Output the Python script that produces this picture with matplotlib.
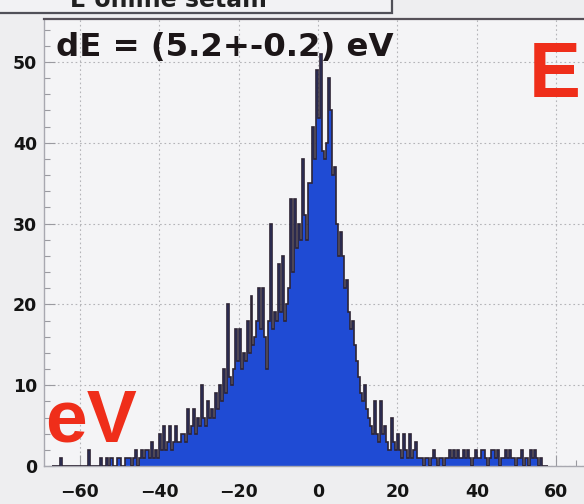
import numpy as np
import matplotlib
matplotlib.use("Agg")
import matplotlib.pyplot as plt
from matplotlib.patches import Rectangle

# Energy-difference histogram: 0.5 eV bins starting at -67 eV
bin_start = -67.0
bin_width = 0.5
counts = [
    0, 0,  0, 0,  1, 0,  0, 0,  0, 0,  0, 0,  0, 0,  0, 0,  0, 0,  2, 0,     # -67 .. -58
    0, 0,  0, 0,  1, 0,  0, 1,  0, 1,  1, 0,  0, 1,  1, 0,  0, 1,  1, 1,     # -57 .. -48
    0, 1,  2, 0,  1, 2,  1, 2,  2, 1,  3, 1,  2, 1,  4, 2,  5, 2,  3, 5,     # -47 .. -38
    2, 3,  5, 3,  3, 4,  4, 3,  7, 4,  5, 7,  4, 6,  5, 10, 6, 5,  8, 6,     # -37 .. -28
    7, 6,  9, 7,  10, 8, 12, 9, 20, 11, 10, 12, 17, 13, 17, 12, 14, 13, 18, 14,  # -27 .. -18
    21, 15, 16, 18, 22, 17, 22, 16, 12, 18, 30, 17, 19, 18, 25, 19, 26, 18, 20, 22,  # -17 .. -8
    33, 24, 33, 27, 30, 28, 38, 31, 28, 35, 35, 42, 38, 49, 43, 51, 39, 38, 40, 48,  # -7 .. 2
    44, 36, 37, 30, 26, 29, 26, 22, 23, 19, 17, 18, 15, 13, 11, 9, 8, 10, 7, 6,      # 3 .. 12
    5, 4,  8, 4,  3, 8,  4, 5,  3, 2,  2, 6,  3, 2,  4, 2,  1, 4,  2, 1,     # 13 .. 22
    4, 1,  2, 3,  1, 1,  1, 0,  1, 1,  0, 1,  2, 1,  0, 1,  1, 0,  1, 1,     # 23 .. 32
    2, 1,  2, 1,  2, 1,  1, 2,  1, 2,  1, 0,  1, 2,  1, 1,  2, 2,  1, 0,     # 33 .. 42
    1, 2,  2, 1,  2, 0,  1, 1,  2, 1,  2, 1,  1, 0,  1, 1,  2, 0,  1, 1,     # 43 .. 52
    0, 2,  1, 2,  1, 0,  1, 0,  0, 0,                                       # 53 .. 57
]
edges = bin_start + bin_width * np.arange(len(counts) + 1)

x_ticks = [-60, -40, -20, 0, 20, 40, 60]
y_ticks = [0, 10, 20, 30, 40, 50]
fit_label = "dE = (5.2+-0.2) eV"
title_label = "E online setam"

W, H = 584, 504
fig = plt.figure(figsize=(W / 100, H / 100), dpi=100)
fig.patch.set_facecolor("#eeeef0")

ax = fig.add_axes([44 / W, 38 / H, 552 / W, 447 / H])
ax.set_facecolor("#f4f4f6")
ax.set_xlim(-69, 70)
ax.set_ylim(0, 55.3)
ax.set_axisbelow(True)

ax.stairs(counts, edges, fill=True, color="#1f4bd4", zorder=2)
ax.stairs(counts, edges, color="#2d2434", linewidth=1.2, zorder=3)

ax.set_xticks(x_ticks)
ax.set_yticks(y_ticks)
ax.set_xticks(np.arange(-65, 71, 5), minor=True)
ax.set_yticks(np.arange(0, 55, 2), minor=True)
ax.grid(True, which="major", linestyle=(0, (1.5, 2.5)), color="#b4b4b8", linewidth=0.8)
ax.tick_params(which="both", direction="in", color="#9a9aa0", width=0.8)
ax.tick_params(which="major", length=8)
ax.tick_params(which="minor", length=4)
ax.tick_params(axis="x", which="major", pad=12)
ax.tick_params(axis="y", which="major", pad=5)
for lab in ax.get_xticklabels() + ax.get_yticklabels():
    lab.set_fontfamily("DejaVu Sans")
    lab.set_fontweight("bold")
    lab.set_fontsize(12.5)
    lab.set_color("#141414")

for side in ("left", "bottom"):
    ax.spines[side].set_color("#a8a8b0")
    ax.spines[side].set_linewidth(1.0)
ax.spines["top"].set_color("#555058")
ax.spines["top"].set_linewidth(1.6)
ax.spines["right"].set_visible(False)

# title box along the top edge
fig.patches.append(Rectangle((-10 / W, 1 - 13 / H), 402 / W, 40 / H,
                             transform=fig.transFigure, facecolor="#f2f2f4",
                             edgecolor="#505058", linewidth=1.6, zorder=5))
fig.text(70 / W, 1 - 7 / H, title_label, family="DejaVu Sans", weight="bold",
         fontsize=17, color="#202020", va="baseline", ha="left", zorder=6)

fig.text(56 / W, 1 - 56 / H, fit_label, family="DejaVu Sans", weight="bold",
         fontsize=23.3, color="#1c1618", va="baseline", ha="left", zorder=6)

red = "#ef2e1a"
fig.text(529 / W, 1 - 97 / H, "E", family="Liberation Sans",
         weight="bold", fontsize=56, color=red, va="baseline", ha="left", zorder=6)
fig.text(45 / W, 1 - 442 / H, "eV", family="Liberation Sans",
         weight="bold", fontsize=54, color=red, va="baseline", ha="left", zorder=6)

fig.savefig("out.png", dpi=100, facecolor=fig.get_facecolor())
